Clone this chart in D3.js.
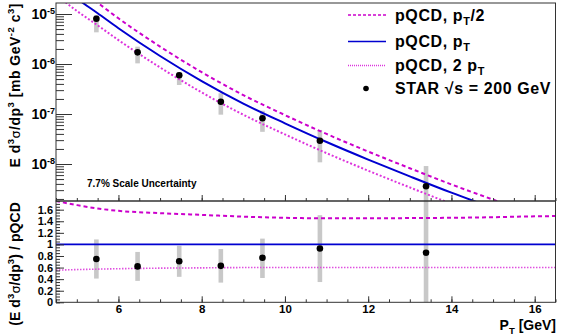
<!DOCTYPE html>
<html>
<head>
<meta charset="utf-8">
<script src="https://cdn.jsdelivr.net/npm/d3@7.9.0/dist/d3.min.js"></script>
<style>
  body { margin: 0; background: #fff; }
  svg text { font-family: "Liberation Sans", Arial, Helvetica, sans-serif; font-weight: bold; fill: #000; }
</style>
</head>
<body>
<svg id="chart" width="567" height="336"></svg>
<script>
// pQCD curves (cross section, mb GeV^-2 c^3) on a pT grid
const ptGrid   = [4.5, 5, 5.5, 6, 7, 8, 9, 10, 11, 12, 13, 14, 15, 16, 16.5];
const pqcdHalf = [7.64e-5, 3.43e-5, 1.68e-5, 8.2e-6, 2.23e-6, 6.87e-7, 2.39e-7, 9.51e-8, 3.99e-8, 1.775e-8, 8.24e-9, 3.9e-9, 1.94e-9, 9.8e-10, 6.97e-10];
const pqcdPt   = [4.37e-5, 2.04e-5, 1.035e-5, 5.19e-6, 1.445e-6, 4.55e-7, 1.615e-7, 6.52e-8, 2.75e-8, 1.225e-8, 5.66e-9, 2.67e-9, 1.32e-9, 6.6e-10, 4.68e-10];
const pqcdTwo  = [2.42e-5, 1.153e-5, 5.93e-6, 3.01e-6, 8.53e-7, 2.7e-7, 9.68e-8, 3.91e-8, 1.65e-8, 7.35e-9, 3.4e-9, 1.6e-9, 7.9e-10, 3.96e-10, 2.8e-10];

// scale-choice ratios relative to the pT curve
const ratioHalf = [1.75, 1.68, 1.62, 1.58, 1.54, 1.51, 1.48, 1.46, 1.45, 1.45, 1.455, 1.46, 1.47, 1.485, 1.49];
const ratioPt   = [1, 1, 1, 1, 1, 1, 1, 1, 1, 1, 1, 1, 1, 1, 1];
const ratioTwo  = [0.555, 0.565, 0.573, 0.58, 0.59, 0.595, 0.6, 0.6, 0.6, 0.6, 0.6, 0.6, 0.6, 0.6, 0.6];

// STAR points
const starPt    = [5.47, 6.46, 7.46, 8.46, 9.46, 10.84, 13.39];
const starXsec  = [8.05e-6, 1.71e-6, 5.94e-7, 1.76e-7, 8.2e-8, 2.92e-8, 3.58e-9];
const starSysLo = [4.3e-6, 1.03e-6, 3.8e-7, 9.7e-8, 4.4e-8, 1.08e-8, 1e-10];
const starSysHi = [9.55e-6, 2.22e-6, 6.9e-7, 2.6e-7, 1.16e-7, 4.8e-8, 9.1e-9];
const starRatio = [0.747, 0.62, 0.71, 0.63, 0.77, 0.93, 0.855];
const ratioLo   = [0.41, 0.37, 0.44, 0.34, 0.42, 0.35, 0];
const ratioHi   = [1.086, 0.87, 0.976, 0.92, 1.10, 1.505, 2.2];

// axis ticks
const xMajor = [6, 8, 10, 12, 14, 16];
const xMinor = d3.range(4.5, 16.51, 0.5);
const yTopMajor = [1e-8, 1e-7, 1e-6, 1e-5];
const yTopExp = ["-8", "-7", "-6", "-5"];
const yRatMajor = [0, 0.2, 0.4, 0.6, 0.8, 1, 1.2, 1.4, 1.6];
const yRatMinor = d3.range(0, 1.751, 0.05);

const legendLabels = [
  ["pQCD, p", "T", "/2"],
  ["pQCD, p", "T", ""],
  ["pQCD, 2 p", "T", ""],
  ["STAR \u221As = 200 GeV", "", ""]
];

const left = 56, right = 555.5, topY = 3, midY = 201, botY = 302.3;
const magenta = '#cc00cc', blue = '#0000d0', pink = '#dd33dd', grey = '#c8c8c8';

const svg = d3.select('#chart');

const x = d3.scaleLinear().domain([4.5, 16.5]).range([left, right]);
const yTop = d3.scaleLog().domain([Math.pow(10, -8.74), Math.pow(10, -4.78)]).range([midY, topY]);
const yRat = d3.scaleLinear().domain([0, 1.75]).range([botY, midY]);

const defs = svg.append('defs');
defs.append('clipPath').attr('id', 'clipTop').append('rect')
  .attr('x', left).attr('y', topY).attr('width', right - left).attr('height', midY - topY);
defs.append('clipPath').attr('id', 'clipBot').append('rect')
  .attr('x', left).attr('y', midY).attr('width', right - left).attr('height', botY - midY);

// -------- top panel --------
const topG = svg.append('g').attr('clip-path', 'url(#clipTop)');

topG.selectAll('.sys')
  .data(starPt)
  .join('rect')
  .attr('x', d => x(d) - 2.3)
  .attr('width', 4.6)
  .attr('y', (d, i) => yTop(starSysHi[i]))
  .attr('height', (d, i) => yTop(starSysLo[i]) - yTop(starSysHi[i]))
  .attr('fill', grey);

const lineTop = d3.line()
  .x((d, i) => x(ptGrid[i]))
  .y(d => yTop(d))
  .curve(d3.curveMonotoneX);

topG.append('path').attr('d', lineTop(pqcdHalf))
  .attr('fill', 'none').attr('stroke', magenta).attr('stroke-width', 2).attr('stroke-dasharray', '4,3');
topG.append('path').attr('d', lineTop(pqcdPt))
  .attr('fill', 'none').attr('stroke', blue).attr('stroke-width', 2);
topG.append('path').attr('d', lineTop(pqcdTwo))
  .attr('fill', 'none').attr('stroke', pink).attr('stroke-width', 2).attr('stroke-dasharray', '2,2');

topG.selectAll('.pt')
  .data(starPt)
  .join('circle')
  .attr('cx', d => x(d))
  .attr('cy', (d, i) => yTop(starXsec[i]))
  .attr('r', 3.3)
  .attr('fill', '#000');

// -------- ratio panel --------
const botG = svg.append('g').attr('clip-path', 'url(#clipBot)');

botG.selectAll('.sys')
  .data(starPt)
  .join('rect')
  .attr('x', d => x(d) - 2.3)
  .attr('width', 4.6)
  .attr('y', (d, i) => yRat(ratioHi[i]))
  .attr('height', (d, i) => yRat(ratioLo[i]) - yRat(ratioHi[i]))
  .attr('fill', grey);

const lineRat = d3.line()
  .x((d, i) => x(ptGrid[i]))
  .y(d => yRat(d))
  .curve(d3.curveMonotoneX);

botG.append('path').attr('d', lineRat(ratioHalf))
  .attr('fill', 'none').attr('stroke', magenta).attr('stroke-width', 2).attr('stroke-dasharray', '4,3');
botG.append('path').attr('d', lineRat(ratioPt))
  .attr('fill', 'none').attr('stroke', blue).attr('stroke-width', 1.6);
botG.append('path').attr('d', lineRat(ratioTwo))
  .attr('fill', 'none').attr('stroke', '#e050e0').attr('stroke-width', 1.6).attr('stroke-dasharray', '1.5,1.5');

botG.selectAll('.pt')
  .data(starPt)
  .join('circle')
  .attr('cx', d => x(d))
  .attr('cy', (d, i) => yRat(starRatio[i]))
  .attr('r', 3.3)
  .attr('fill', '#000');

// -------- frames --------
svg.append('rect').attr('x', left).attr('y', topY).attr('width', right - left).attr('height', midY - topY)
  .attr('fill', 'none').attr('stroke', '#333').attr('stroke-width', 1);
svg.append('rect').attr('x', left).attr('y', midY).attr('width', right - left).attr('height', botY - midY)
  .attr('fill', 'none').attr('stroke', '#333').attr('stroke-width', 1);

// -------- axes --------
function styleAxis(g) {
  g.select('.domain').remove();
  g.selectAll('line').attr('stroke', '#333');
}

// top panel x ticks (no labels)
svg.append('g').attr('transform', `translate(0,${midY})`)
  .call(d3.axisBottom(x).tickValues(xMinor).tickSizeInner(-3).tickSizeOuter(0).tickFormat(''))
  .call(styleAxis);
svg.append('g').attr('transform', `translate(0,${midY})`)
  .call(d3.axisBottom(x).tickValues(xMajor).tickSizeInner(-6).tickSizeOuter(0).tickFormat(''))
  .call(styleAxis);

// ratio panel x axis
svg.append('g').attr('transform', `translate(0,${botY})`)
  .call(d3.axisBottom(x).tickValues(xMinor).tickSizeInner(-3).tickSizeOuter(0).tickFormat(''))
  .call(styleAxis);
svg.append('g').attr('transform', `translate(0,${botY})`)
  .call(d3.axisBottom(x).tickValues(xMajor).tickSizeInner(-6).tickSizeOuter(0).tickPadding(3).tickFormat(d3.format('d')))
  .call(styleAxis)
  .selectAll('text').attr('font-size', 11.5).attr('dy', '0.71em');

// top panel y axis (log)
const yTopMinor = [];
[-9, -8, -7, -6, -5].forEach(e => { for (let m = 2; m <= 9; m++) yTopMinor.push(m * Math.pow(10, e)); });
svg.append('g').attr('transform', `translate(${left},0)`)
  .call(d3.axisLeft(yTop).tickValues(yTopMinor.filter(v => v > yTop.domain()[0] && v < yTop.domain()[1]))
    .tickSizeInner(-8).tickSizeOuter(0).tickFormat(''))
  .call(styleAxis);
const yTopAxis = svg.append('g').attr('transform', `translate(${left},0)`)
  .call(d3.axisLeft(yTop).tickValues(yTopMajor).tickSizeInner(-16).tickSizeOuter(0).tickPadding(1).tickFormat(''))
  .call(styleAxis);
yTopAxis.selectAll('.tick text').each(function(d, i) {
  const t = d3.select(this).attr('font-size', 14).attr('dy', '0.32em');
  t.append('tspan').text('10');
  t.append('tspan').attr('font-size', 9).attr('dy', -5).text(yTopExp[i]);
});

// ratio y axis
svg.append('g').attr('transform', `translate(${left},0)`)
  .call(d3.axisLeft(yRat).tickValues(yRatMinor).tickSizeInner(-4).tickSizeOuter(0).tickFormat(''))
  .call(styleAxis);
svg.append('g').attr('transform', `translate(${left},0)`)
  .call(d3.axisLeft(yRat).tickValues(yRatMajor).tickSizeInner(-8).tickSizeOuter(0).tickPadding(3)
    .tickFormat(d => String(+d.toFixed(2))))
  .call(styleAxis)
  .selectAll('text').attr('font-size', 11);

// -------- axis titles --------
function richText(g, parts, size, spacing) {
  const t = g.append('text').attr('font-size', size).attr('letter-spacing', spacing || 0);
  let shift = 0;
  parts.forEach(p => {
    const s = t.append('tspan').text(p.t);
    const target = p.sup ? -6 : (p.sub ? 4 : 0);
    if (target !== shift) { s.attr('dy', target - shift); shift = target; }
    if (p.sup || p.sub) s.attr('font-size', size * 0.68);
    if (p.greek) s.attr('font-weight', 'normal').attr('font-family', '"DejaVu Sans", sans-serif').attr('font-size', size * 0.9);
  });
  return t;
}

richText(svg.append('g').attr('transform', `translate(19.5,3) rotate(-90)`), [
  { t: 'E d' }, { t: '3', sup: true }, { t: '\u03C3', greek: true }, { t: '/dp' }, { t: '3', sup: true },
  { t: ' [mb GeV' }, { t: '-2', sup: true }, { t: ' c' }, { t: '3', sup: true }, { t: ']' }
], 14, 0.5).attr('text-anchor', 'end');

richText(svg.append('g').attr('transform', `translate(19.5,202) rotate(-90)`), [
  { t: '(E d' }, { t: '3', sup: true }, { t: '\u03C3', greek: true }, { t: '/dp' }, { t: '3', sup: true },
  { t: ') / pQCD' }
], 14, 0.1).attr('text-anchor', 'end');

richText(svg.append('g').attr('transform', `translate(556,330)`), [
  { t: 'P' }, { t: 'T', sub: true }, { t: ' [GeV]' }
], 14).attr('text-anchor', 'end');

svg.append('text')
  .attr('x', 87).attr('y', 187)
  .attr('font-size', 10)
  .text('7.7% Scale Uncertainty');

// -------- legend --------
const legRows = [15, 41.5, 65.5, 88.5];
const legend = svg.append('g');
legend.append('line').attr('x1', 348).attr('x2', 386).attr('y1', legRows[0]).attr('y2', legRows[0])
  .attr('stroke', magenta).attr('stroke-width', 1.5).attr('stroke-dasharray', '3,2');
legend.append('line').attr('x1', 348).attr('x2', 386).attr('y1', legRows[1]).attr('y2', legRows[1])
  .attr('stroke', blue).attr('stroke-width', 1.5);
legend.append('line').attr('x1', 348).attr('x2', 386).attr('y1', legRows[2]).attr('y2', legRows[2])
  .attr('stroke', pink).attr('stroke-width', 1.5).attr('stroke-dasharray', '1,1');
legend.append('circle').attr('cx', 366).attr('cy', legRows[3]).attr('r', 2.8).attr('fill', '#000');

legendLabels.forEach((lab, i) => {
  const parts = [{ t: lab[0] }];
  if (lab[1]) parts.push({ t: lab[1], sub: true });
  if (lab[2]) parts.push({ t: lab[2] });
  richText(legend.append('g').attr('transform', `translate(395,${legRows[i] + 5.5})`), parts, 16, 0.6);
});
</script>
</body>
</html>
